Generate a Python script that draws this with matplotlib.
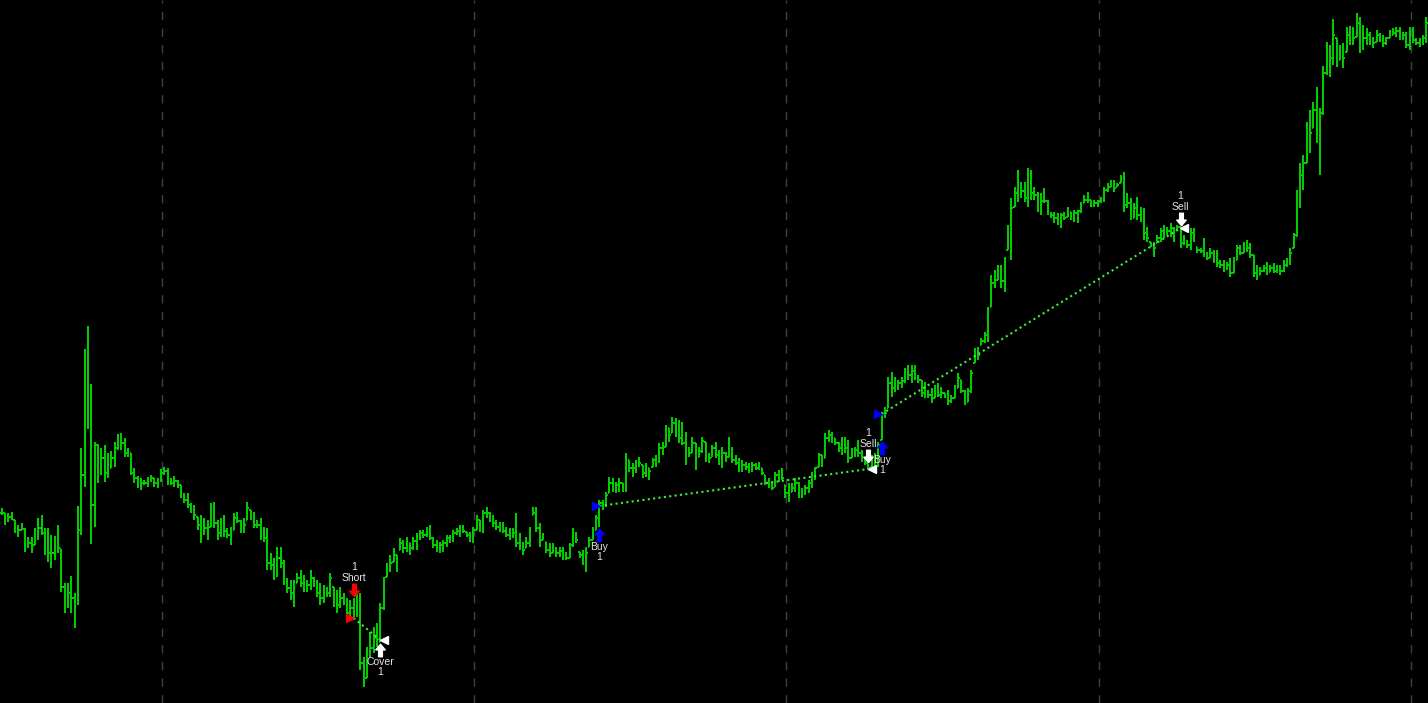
import matplotlib
matplotlib.use('Agg')
import matplotlib.pyplot as plt
from matplotlib.collections import LineCollection
from matplotlib.path import Path
from matplotlib.transforms import offset_copy
import numpy as np

# Price bars (high / low / close), one value per bar, left to right
highs = [
    19.5, 19.0, 19.0, 19.1, 18.3, 17.8, 18.0, 17.5, 16.6, 16.6,
    17.5, 18.5, 18.8, 17.5, 17.5, 16.8, 16.7, 17.8, 15.4, 12.0,
    12.0, 12.7, 11.0, 19.7, 25.5, 35.4, 37.7, 31.9, 26.1, 25.9,
    25.5, 25.8, 25.0, 25.2, 26.1, 26.9, 27.0, 26.5, 25.5, 25.0,
    23.5, 22.7, 22.5, 22.3, 22.6, 22.8, 22.5, 22.5, 23.4, 23.6,
    23.5, 22.5, 22.7, 22.3, 21.8, 21.0, 21.0, 20.0, 19.8,
    18.6, 18.8, 18.5, 18.3, 20.0, 20.1,
    18.3, 18.5, 18.8, 17.5, 17.6, 19.0, 19.1, 18.3, 18.5,
    20.1, 19.3, 19.1, 18.3, 18.5, 17.6, 17.5, 15.0, 14.5, 15.6,
    15.6, 14.3, 12.5, 12.3, 12.3, 13.0, 13.3, 12.8, 12.3, 13.3,
    12.6, 12.3, 12.0, 11.8, 11.6, 13.0, 11.6, 11.3, 11.6, 11.0,
    10.5, 10.3, 10.5, 11.0, 11.0, 4.6, 5.6, 7.1, 7.6, 8.0,
    10.0, 12.6, 14.0, 14.8, 15.5, 14.8, 16.5, 16.3, 16.6, 16.0,
    16.6, 17.0, 17.3,
    17.3, 17.6, 17.8, 16.6, 16.3, 16.1, 16.3, 16.8, 16.8, 17.3, 17.5,
    17.8, 17.8,
    17.1, 17.1, 17.6, 18.8, 18.3, 19.3, 19.6,
    19.1, 18.8, 18.3, 18.1, 18.1, 17.6, 17.5, 17.5, 19.0, 17.0, 16.1,
    16.6, 17.6, 19.6, 19.6, 18.0, 17.0, 16.1, 16.0, 16.0, 15.6,
    15.6, 15.6, 15.1, 16.0, 17.5, 17.1, 15.1, 15.3, 15.6, 16.6, 17.6,
    18.8, 20.3, 20.3, 21.1, 22.6, 22.5, 22.1,
    22.5, 22.0, 25.0, 24.3, 24.0, 24.3, 24.6,
    23.8, 24.0, 23.5,
    24.5, 24.8, 26.0, 26.1, 27.8, 27.5, 28.6, 28.5,
    28.3, 28.1,
    27.1, 25.6, 26.6, 26.0, 25.6, 26.6, 26.1,
    25.0, 25.8, 26.1, 25.3, 25.6, 25.1, 26.6, 25.6, 24.8, 24.5, 24.3, 24.1,
    24.0, 24.1, 24.0,
    24.1, 23.5, 22.8, 22.5, 22.1, 23.1,
    23.3, 23.5, 21.8, 22.0, 22.0, 22.5, 22.1, 21.5, 21.8, 22.3, 23.1, 23.6,
    25.0, 24.8, 27.0, 27.3, 27.1, 26.5, 26.1, 26.6, 26.6, 26.3, 25.5, 25.6,
    26.3, 25.3, 24.6, 23.9, 24.8, 25.0, 26.1,
    29.1, 29.6, 32.6, 33.1, 32.6, 32.3, 32.6, 33.5, 33.8, 33.8,
    33.8, 32.8, 32.3, 32.1, 31.3, 31.5, 31.8, 32.0, 31.6, 31.0,
    31.3, 30.8, 31.8, 33.0, 32.3, 31.3, 31.5, 33.3, 35.5, 35.6,
    36.5, 37.1, 39.6, 42.8, 43.3, 43.8, 43.8, 44.6, 47.8, 50.5,
    51.6, 53.3, 52.1, 52.1, 53.5, 53.3, 51.6, 51.1, 51.0, 51.5,
    50.3, 49.1, 49.1, 49.0, 49.0, 49.1, 49.6, 49.1, 49.3, 49.3,
    50.1, 50.8, 51.1,
    50.3, 50.3, 50.3, 50.6,
    51.6, 52.0, 52.3, 52.3, 52.0, 52.8,
    53.1, 51.0, 50.5, 50.0, 50.6, 49.6, 49.5,
    47.6, 46.1, 46.1, 46.8, 47.5,
    47.8, 47.6, 48.0, 47.6, 47.8, 47.6, 46.8, 46.3, 47.5, 47.5, 45.6,
    45.5, 46.5, 45.1, 45.5, 45.3, 45.3, 44.3, 44.3, 44.1, 44.5, 44.6,
    45.8, 45.8, 46.1, 46.3, 46.0, 44.8, 43.8, 43.6, 43.8, 44.1,
    43.8, 44.0, 43.8, 43.8, 44.3, 44.5, 45.5, 47.0, 51.3,
    54.0, 54.8, 58.1, 59.3, 60.1, 61.6, 59.5, 63.7, 66.1, 65.8,
    68.4, 66.5, 65.8, 66.0, 67.6, 67.7, 67.6, 69.0, 68.6, 67.8,
    67.5, 67.1, 66.6, 67.3, 67.0, 66.8, 66.6, 67.3, 67.5, 67.6,
    67.6, 67.1, 67.1, 67.6, 67.6, 66.5, 66.5, 66.8, 68.6,
]
lows = [
    18.8, 17.8, 18.1, 18.3, 17.0, 16.6, 17.3, 15.1, 15.5, 15.0,
    15.8, 16.3, 16.8, 14.8, 14.1, 13.5, 14.3, 15.0, 11.1, 9.0,
    9.5, 9.0, 7.5, 9.8, 16.8, 21.6, 27.4, 15.9, 17.6, 22.0,
    22.8, 22.1, 22.5, 23.5, 23.6, 25.3, 25.3, 24.6, 24.6, 22.8,
    22.0, 21.5, 21.3, 21.8, 21.6, 22.1, 21.6, 21.5, 22.1, 22.8,
    21.8, 21.8, 21.6, 21.5, 20.5, 20.0, 19.5, 19.0, 18.3,
    17.3, 16.0, 16.8, 16.3, 17.6, 17.5,
    16.3, 16.6, 16.6, 16.5, 15.8, 17.3, 18.0, 17.0, 17.0,
    18.3, 18.3, 17.5, 17.5, 16.3, 16.1, 13.3, 13.3, 12.3, 12.6,
    13.5, 11.8, 11.0, 10.3, 9.6, 12.0, 11.6, 11.1, 11.1, 11.3,
    11.6, 10.6, 9.8, 10.0, 10.6, 10.6, 9.6, 9.0, 9.5, 9.8,
    8.6, 8.6, 8.3, 8.6, 3.3, 1.6, 2.5, 4.6, 5.0, 5.6,
    6.1, 9.3, 12.6, 13.1, 14.1, 13.1, 15.3, 15.0, 15.1, 14.8,
    15.3, 15.3, 16.3,
    16.5, 16.6, 16.3, 15.5, 15.1, 15.0, 15.1, 15.6, 16.0, 16.1, 16.8,
    16.6, 17.0,
    16.6, 16.1, 16.0, 17.3, 17.1, 17.0, 18.5,
    18.1, 17.6, 17.3, 17.1, 17.0, 16.6, 16.3, 16.5, 15.6, 15.3, 14.8,
    15.5, 15.6, 18.8, 17.1, 15.6, 16.3, 15.0, 14.6, 15.0, 14.6,
    14.6, 14.3, 14.3, 14.5, 15.6, 16.0, 14.5, 13.8, 13.1, 15.6, 16.3,
    17.3, 17.6, 19.3, 19.6, 21.0, 21.1, 21.0,
    21.1, 21.1, 21.1, 23.1, 22.6, 23.0, 23.6,
    22.5, 22.6, 22.3,
    23.6, 23.6, 24.0, 24.8, 25.6, 26.1, 27.0, 26.6,
    26.0, 25.8,
    23.8, 24.6, 25.0, 23.3, 24.6, 25.0, 24.1,
    24.0, 24.6, 24.5, 23.8, 23.5, 24.1, 24.6, 24.0, 23.8, 23.1, 23.1, 23.3,
    23.0, 23.1, 23.3,
    23.3, 22.8, 21.8, 21.5, 21.3, 21.6,
    22.1, 22.3, 20.5, 20.1, 21.1, 21.1, 20.5, 20.5, 20.8, 21.0, 21.5, 22.3,
    23.6, 23.6, 24.5, 26.1, 26.0, 25.8, 25.1, 24.8, 25.0, 24.0, 24.5, 24.6,
    24.6, 24.1, 23.8, 23.3, 23.6, 23.5, 23.6,
    26.3, 28.5, 29.5, 30.6, 31.1, 31.3, 31.5, 32.0, 32.3, 32.0,
    32.3, 32.0, 30.6, 30.5, 30.5, 30.0, 30.5, 30.6, 30.5, 30.5,
    29.8, 30.0, 30.5, 31.5, 31.0, 29.8, 30.1, 31.0, 34.0, 34.3,
    35.8, 36.0, 36.1, 39.6, 41.5, 42.3, 41.5, 41.1, 45.3, 44.3,
    49.6, 50.1, 50.5, 50.1, 49.6, 50.3, 50.3, 49.1, 48.8, 50.0,
    48.8, 48.5, 48.0, 47.8, 47.5, 48.3, 48.6, 48.3, 48.1, 48.0,
    49.0, 50.0, 50.0,
    49.6, 49.6, 49.6, 50.0,
    50.1, 51.1, 51.6, 51.1, 51.6, 52.0,
    49.1, 49.5, 48.3, 48.5, 48.3, 48.1, 46.3,
    46.1, 45.6, 44.6, 46.0, 46.1,
    46.5, 46.8, 46.6, 46.1, 47.3, 45.5, 45.8, 45.5, 45.3, 46.1, 45.0,
    45.0, 44.6, 44.3, 44.5, 44.0, 43.6, 43.5, 43.1, 43.3, 42.6, 43.0,
    44.3, 44.8, 45.0, 45.1, 44.5, 42.6, 42.3, 42.8, 43.1, 42.8,
    43.1, 43.0, 43.0, 42.8, 43.1, 43.6, 43.8, 45.5, 46.6,
    49.5, 51.3, 54.0, 55.0, 57.5, 56.0, 52.8, 58.8, 62.8, 62.6,
    63.8, 63.6, 64.3, 63.5, 65.1, 65.8, 65.8, 66.6, 65.0, 65.3,
    65.8, 65.8, 65.5, 66.1, 66.1, 65.6, 65.8, 66.5, 66.8, 66.6,
    66.3, 66.3, 65.5, 65.3, 66.0, 65.8, 65.6, 65.8, 66.0,
]
closes = [
    19.0, 18.3, 18.6, 18.5, 17.5, 17.3, 17.4, 16.2, 16.0, 15.8,
    16.5, 17.5, 17.0, 15.5, 15.0, 15.0, 15.8, 15.5, 11.6, 11.3,
    11.0, 10.5, 10.6, 17.3, 22.8, 30.3, 29.0, 19.8, 25.8, 24.0,
    24.5, 23.0, 23.5, 24.5, 25.5, 26.5, 26.0, 25.0, 25.0, 23.0,
    22.5, 22.0, 22.0, 22.0, 22.3, 22.5, 22.0, 22.2, 23.0, 23.2,
    22.3, 22.0, 22.2, 21.8, 20.8, 20.3, 19.8, 19.5, 18.8,
    17.8, 17.0, 17.5, 17.0, 19.5, 18.0,
    17.0, 17.5, 17.2, 16.8, 17.0, 18.5, 18.2, 17.5, 17.8,
    19.5, 18.8, 17.8, 17.8, 16.8, 16.5, 14.0, 13.8, 13.0, 14.5,
    14.0, 12.2, 11.5, 11.0, 12.0, 12.5, 12.0, 11.5, 11.8, 12.5,
    12.0, 11.0, 10.5, 10.8, 11.0, 12.5, 10.0, 9.8, 10.5, 10.2,
    9.0, 9.5, 9.0, 8.8, 4.0, 2.5, 4.0, 5.5, 6.5, 6.0,
    9.5, 12.0, 13.5, 14.0, 14.8, 14.5, 16.0, 15.5, 16.0, 15.5,
    16.2, 16.5, 17.0,
    16.8, 17.2, 16.5, 15.8, 15.5, 15.8, 16.0, 16.5, 16.3, 17.0, 17.2,
    17.5, 17.2,
    16.8, 16.5, 17.3, 18.5, 17.5, 19.0, 19.0,
    18.5, 18.0, 17.6, 17.5, 17.2, 16.8, 16.8, 17.0, 16.0, 15.5, 15.3,
    16.0, 17.3, 19.0, 17.5, 16.0, 16.5, 15.3, 15.0, 15.5, 15.0,
    15.2, 14.8, 14.5, 15.8, 17.0, 16.3, 14.8, 14.5, 15.0, 16.3, 17.0,
    18.5, 20.0, 19.8, 20.8, 22.0, 21.5, 21.8,
    22.0, 21.5, 24.5, 23.5, 23.5, 24.0, 24.0,
    23.0, 23.5, 23.2,
    24.3, 24.5, 25.5, 25.5, 27.5, 26.8, 28.0, 28.2,
    26.5, 26.0,
    25.0, 25.0, 26.0, 24.0, 25.2, 26.2, 24.5,
    24.5, 25.5, 24.8, 24.2, 25.0, 24.5, 25.5, 24.3, 24.0, 23.5, 23.8, 23.6,
    23.5, 23.8, 23.5,
    23.6, 23.0, 22.0, 21.8, 21.5, 22.8,
    23.0, 22.5, 21.0, 20.5, 21.5, 22.0, 21.0, 21.0, 21.5, 22.0, 23.0, 23.5,
    24.8, 24.0, 26.5, 26.8, 26.5, 26.0, 25.5, 26.0, 25.5, 24.5, 25.0, 25.3,
    25.0, 24.5, 24.0, 23.5, 24.0, 24.5, 25.8,
    28.8, 29.0, 32.0, 31.5, 31.5, 32.0, 32.2, 33.0, 32.8, 33.2,
    32.5, 32.3, 31.0, 31.2, 30.8, 30.5, 31.5, 30.8, 31.0, 30.8,
    30.2, 30.5, 31.5, 32.5, 31.2, 30.0, 31.2, 33.0, 35.0, 34.8,
    36.2, 36.8, 39.0, 42.0, 42.0, 43.0, 42.2, 43.8, 45.8, 49.5,
    51.0, 52.0, 51.2, 50.5, 52.0, 51.0, 50.8, 49.5, 50.2, 50.2,
    49.0, 48.8, 48.5, 48.2, 48.8, 48.5, 49.2, 48.6, 49.0, 49.2,
    50.0, 50.3, 50.3,
    49.8, 50.0, 50.2, 50.3,
    51.3, 51.5, 52.0, 51.5, 51.8, 52.5,
    49.8, 50.0, 48.5, 49.5, 48.8, 48.5, 47.0,
    46.5, 45.8, 45.5, 46.5, 47.2,
    47.0, 47.2, 47.5, 47.0, 47.6, 46.0, 46.2, 45.8, 47.0, 46.3, 45.3,
    45.2, 45.0, 44.5, 45.0, 44.3, 44.0, 43.8, 43.5, 43.8, 43.0, 44.3,
    45.5, 45.0, 45.8, 45.5, 44.8, 43.0, 42.8, 43.2, 43.5, 43.0,
    43.5, 43.2, 43.5, 43.2, 43.8, 44.2, 45.0, 46.8, 51.0,
    52.8, 54.0, 56.5, 57.0, 59.3, 57.0, 59.0, 63.0, 65.5, 64.5,
    66.8, 64.0, 65.0, 64.5, 66.8, 67.0, 66.5, 68.0, 65.5, 66.5,
    66.8, 66.5, 66.0, 66.8, 66.3, 66.0, 66.5, 66.8, 67.0, 67.2,
    66.5, 66.8, 65.8, 67.0, 66.3, 66.0, 66.0, 66.5, 68.0,
]

# Trades (bar index and price of entry / exit)
entry_kind = ['Short', 'Buy', 'Buy']
exit_kind = ['Cover', 'Sell', 'Sell']
entry_bar = [106, 180, 265]
entry_price = [8.5, 19.7, 28.9]
exit_bar = [114, 261, 355]
exit_price = [6.3, 23.4, 47.5]
trade_size = [1, 1, 1]

# first bar of each new period (dashed separators)
period_starts = [48, 142, 236, 330, 424]

assert len(highs) == len(lows) == len(closes), (len(highs), len(lows), len(closes))

BAR = '#00cc00'
TXT = '#e4e4e4'

fig = plt.figure(figsize=(14.28, 7.03), dpi=100, facecolor='black')
ax = fig.add_axes([0, 0, 1, 1])
ax.set_facecolor('black')
ax.axis('off')

n = len(closes)
hi = np.array(highs)
lo = np.array(lows)
cl = np.array(closes)
op = np.clip(np.r_[cl[0], cl[:-1]], lo, hi)

segs = []
for i in range(n):
    segs.append([(i, lo[i]), (i, hi[i])])
    segs.append([(i - 0.45, op[i]), (i, op[i])])
    segs.append([(i, cl[i]), (i + 0.45, cl[i])])
ax.add_collection(LineCollection(segs, colors=BAR, linewidths=1.3,
                                 antialiaseds=False, zorder=2))

for p in period_starts:
    ax.axvline(p + 0.3, color='#404040', lw=1.0, dashes=(6, 6), zorder=1)

# block arrow markers
up_verts = [(0, 1), (0.75, 0.1), (0.3, 0.1), (0.3, -1), (-0.3, -1), (-0.3, 0.1), (-0.75, 0.1), (0, 1)]
up_arrow = Path(up_verts, closed=True)
down_arrow = Path([(x, -y) for x, y in up_verts], closed=True)


def shifted(dy):
    return offset_copy(ax.transData, fig=fig, x=0, y=dy, units='dots')


def label(txt, bar, price, dy):
    ax.annotate(txt, xy=(bar, price), xytext=(0, dy), textcoords='offset pixels',
                ha='center', va='center', color=TXT, fontsize=7.5,
                family='Liberation Sans', zorder=6)


def signal(kind, bar, size):
    if kind in ('Buy', 'Cover'):
        col = '#0000ff' if kind == 'Buy' else 'white'
        base = lows[bar]
        ax.plot(bar, base, marker=up_arrow, markersize=9, color=col, mec=col,
                transform=shifted(-8), zorder=5)
        label(kind, bar, base, -20)
        label(str(size), bar, base, -30)
    else:
        col = '#ff0000' if kind == 'Short' else 'white'
        base = highs[bar]
        ax.plot(bar, base, marker=down_arrow, markersize=9, color=col, mec=col,
                transform=shifted(8), zorder=5)
        label(kind, bar, base, 20)
        label(str(size), bar, base, 31)


for k in range(len(entry_bar)):
    ax.plot([entry_bar[k], exit_bar[k]], [entry_price[k], exit_price[k]],
            color='#3cf03c', lw=1.5, linestyle=(0, (1, 1.6)), zorder=3)
    ecol = '#ff0000' if entry_kind[k] == 'Short' else '#0000ff'
    ax.plot(entry_bar[k] - 1.0, entry_price[k], marker='>', markersize=6,
            color=ecol, mec=ecol, zorder=5)
    ax.plot(exit_bar[k] + 1.0, exit_price[k], marker='<', markersize=6,
            color='white', mec='white', zorder=5)
    signal(entry_kind[k], entry_bar[k], trade_size[k])
    signal(exit_kind[k], exit_bar[k], trade_size[k])

ax.set_xlim(-0.5, n - 0.5)
ax.set_ylim(0, 70.3)

fig.savefig('out.png', dpi=100, facecolor='black')
